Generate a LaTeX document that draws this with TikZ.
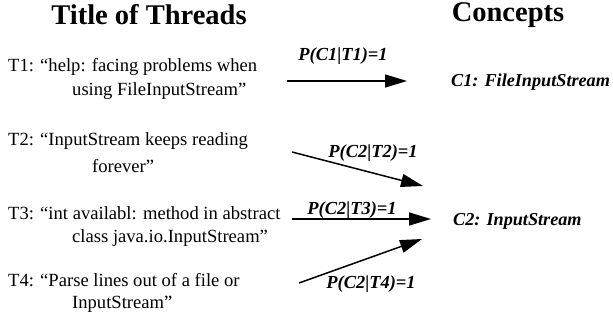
\documentclass[tikz,border=0pt]{standalone}
\usepackage{fontspec}
\setmainfont{Liberation Serif}
\usetikzlibrary{arrows.meta}
\tikzset{
  title/.style={font=\fontsize{28.5}{30}\selectfont\bfseries, inner sep=0pt},
  txt/.style={font=\fontsize{18.6}{20}\selectfont, inner sep=0pt, anchor=west},
  concept/.style={font=\fontsize{18.2}{20}\selectfont\bfseries\itshape, inner sep=0pt, anchor=west},
  prob/.style={font=\fontsize{18.4}{20}\selectfont\bfseries\itshape, inner sep=0pt},
  arr/.style={line width=1.5pt, -{Triangle[length=22pt,width=13pt]}}
}
\begin{document}
\begin{tikzpicture}[x=1pt,y=-1pt]
\useasboundingbox (0,0) rectangle (613,321);
\node[title] (tt) at (149,15) {Title of Threads};
\node[title] (tc) at (508,15) {Concepts};
\node[txt] (t1a) at (8,67) {T1: “help: facing problems when};
\node[txt] (t1b) at (72,91) {using FileInputStream”};
\node[txt] (t2a) at (8,141) {T2: “InputStream keeps reading};
\node[txt] (t2b) at (92,166) {forever”};
\node[txt] (t3a) at (8,213) {T3: “int availabl: method in abstract};
\node[txt] (t3b) at (72,238) {class java.io.InputStream”};
\node[txt] (t4a) at (8,280) {T4: “Parse lines out of a file or};
\node[txt] (t4b) at (72,304) {InputStream”};
\node[concept] (c1) at (451,82) {C1: FileInputStream};
\node[concept] (c2) at (453,221) {C2: InputStream};
\coordinate (a1s) at (287,81);
\coordinate (a1e) at (407,81);
\coordinate (a2s) at (292,152);
\coordinate (a2e) at (423,186);
\coordinate (a3s) at (292,219);
\coordinate (a3e) at (431,219);
\coordinate (a4s) at (299,283);
\coordinate (a4e) at (422,239);
\draw[arr] (a1s) -- (a1e);
\draw[arr] (a2s) -- (a2e);
\draw[arr] (a3s) -- (a3e);
\draw[arr] (a4s) -- (a4e);
\node[prob] (p1) at (343,56) {P(C1|T1)=1};
\node[prob] (p2) at (373,153) {P(C2|T2)=1};
\node[prob] (p3) at (352,210) {P(C2|T3)=1};
\node[prob] (p4) at (371,284) {P(C2|T4)=1};
\end{tikzpicture}
\end{document}
